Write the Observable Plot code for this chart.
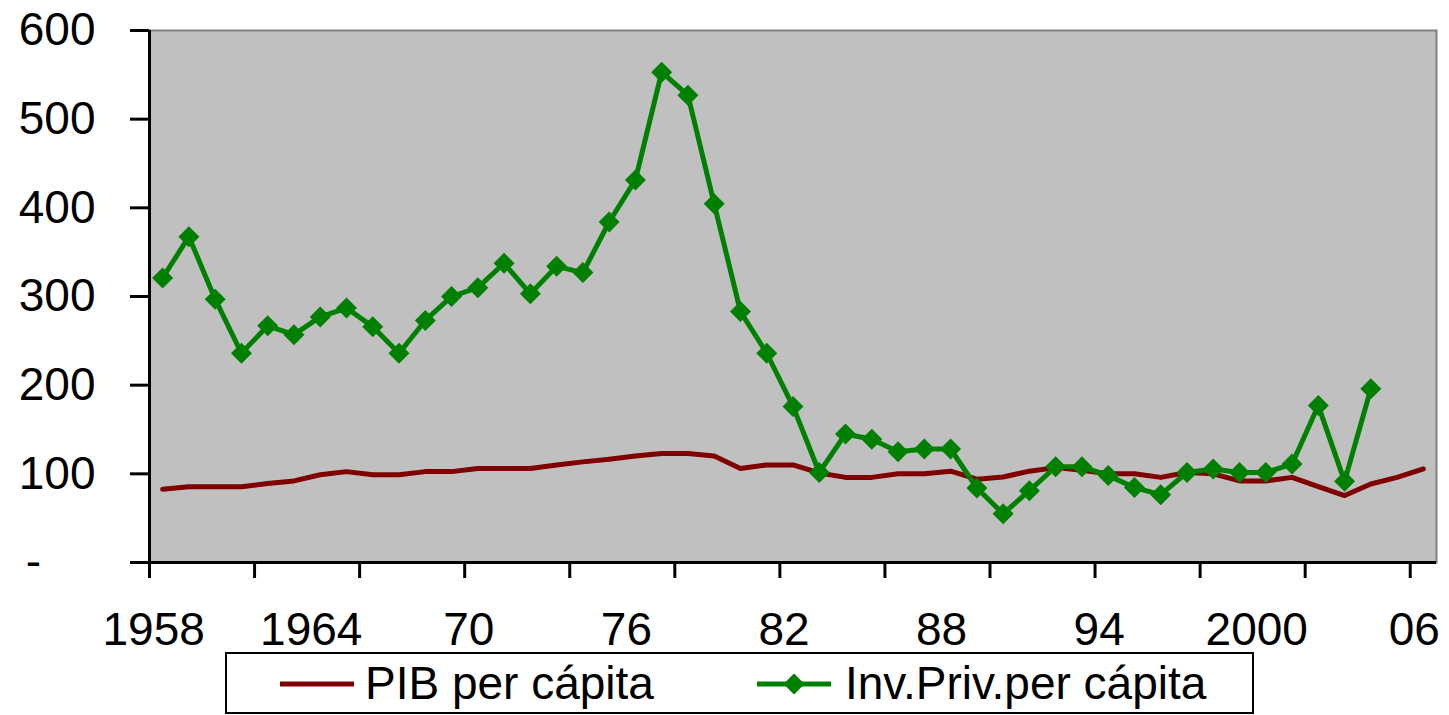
<!DOCTYPE html>
<html>
<head>
<meta charset="utf-8">
<script src="https://cdn.jsdelivr.net/npm/d3@7"></script>
<script src="https://cdn.jsdelivr.net/npm/@observablehq/plot@0.6"></script>
<style>
  html, body { margin: 0; padding: 0; background: #fff; }
  #wrap { position: relative; width: 1449px; height: 715px; font-family: "Liberation Sans", Arial, sans-serif; }
  #legend { position: absolute; left: 225px; top: 652px; width: 1029px; height: 62px; box-sizing: border-box; border: 2px solid #000; background: #fff; }
  .item { position: absolute; top: 0; height: 58px; display: flex; align-items: center; font-size: 46px; color: #000; white-space: nowrap; }
  .sw { position: absolute; top: 15px; }
</style>
</head>
<body>
<div id="wrap"></div>
<script>
const years = [1958,1959,1960,1961,1962,1963,1964,1965,1966,1967,1968,1969,1970,1971,1972,1973,1974,1975,1976,1977,1978,1979,1980,1981,1982,1983,1984,1985,1986,1987,1988,1989,1990,1991,1992,1993,1994,1995,1996,1997,1998,1999,2000,2001,2002,2003,2004,2005,2006];
const pibPerCapita = [82.5,85.5,85.5,85.5,89,92,99,102.5,99,99,102.5,102.5,106,106,106,110,113.5,116.5,120,123,123,120,106,110,110,101,96,96,100,100,103,94,96.5,103,107,104,100,100,96,101.5,100,92,92,96,85.5,75.5,88.5,96,105.5];
const invPrivPerCapita = [321,367.5,297,236,267,257,277,287,266,236,273,300,310,337.5,303,334,327,384,431.5,553,527,404.5,283,236,176,101.5,145,139,125,128,128,84,55,81,108,108,98,84.5,76.5,101.5,105.5,101.5,101.5,111,177,91.5,196];
const yTicks = [0,100,200,300,400,500,600];
const xLabelYears = [1958,1964,1970,1976,1982,1988,1994,2000,2006];
const xLabelText = ["1958","1964","70","76","82","88","94","2000","06"];
const seriesNames = ["PIB per cápita","Inv.Priv.per cápita"];
const colors = ["#800000","#008000"];

const pibRows = years.map((y,i) => ({year: y, value: pibPerCapita[i]}));
const invRows = invPrivPerCapita.map((v,i) => ({year: years[i], value: v}));

const diamond = {
  draw(context, size) {
    const r = Math.sqrt(size / Math.PI);
    context.moveTo(0, -r);
    context.lineTo(r, 0);
    context.lineTo(0, r);
    context.lineTo(-r, 0);
    context.closePath();
  }
};

const xMin = years[0] - 0.5, xMax = years[years.length - 1] + 0.5;
const tickBounds = d3.range(xMin, xMax + 0.01, 4);

const chart = Plot.plot({
  width: 1449,
  height: 715,
  marginLeft: 149,
  marginRight: 13,
  marginTop: 30,
  marginBottom: 153,
  style: {fontFamily: '"Liberation Sans", Arial, sans-serif', fontSize: "46px", background: "transparent", color: "#000", overflow: "visible"},
  x: {domain: [xMin, xMax]},
  y: {domain: [0, 600]},
  marks: [
    Plot.frame({fill: "#C0C0C0", stroke: "#808080", strokeWidth: 2}),
    Plot.line(pibRows, {x: "year", y: "value", stroke: colors[0], strokeWidth: 5, strokeLinejoin: "round"}),
    Plot.line(invRows, {x: "year", y: "value", stroke: colors[1], strokeWidth: 5, strokeLinejoin: "round"}),
    Plot.dot(invRows, {x: "year", y: "value", symbol: diamond, r: 10.5, fill: colors[1], stroke: "none"}),
    Plot.ruleX([xMin], {stroke: "#000", strokeWidth: 3}),
    Plot.ruleY([0], {stroke: "#000", strokeWidth: 3}),
    Plot.axisY({ticks: yTicks, tickFormat: d => d === 0 ? "" : String(d), tickSize: 19, tickPadding: 35, strokeWidth: 3, fontSize: 46, label: null}),
    Plot.axisY({ticks: [0], tickFormat: () => "-", tickSize: 0, tickPadding: 116, textAnchor: "middle", fontSize: 46, label: null}),
    Plot.axisX({ticks: tickBounds, tickFormat: () => "", tickSize: 16, strokeWidth: 3, label: null}),
    Plot.axisX({ticks: xLabelYears, tickFormat: d => xLabelText[xLabelYears.indexOf(d)], tickSize: 0, tickPadding: 50, fontSize: 46, dx: -9, label: null})
  ]
});

const wrap = document.getElementById("wrap");
chart.style.position = "absolute";
chart.style.left = "0";
chart.style.top = "0";
wrap.appendChild(chart);

const legend = document.createElement("div");
legend.id = "legend";
legend.innerHTML = `
  <svg class="sw" style="left:53px" width="74" height="30"><line x1="0" y1="15" x2="74" y2="15" stroke="${colors[0]}" stroke-width="5"/></svg>
  <div class="item" style="left:138px">${seriesNames[0]}</div>
  <svg class="sw" style="left:530px" width="74" height="30"><line x1="0" y1="15" x2="74" y2="15" stroke="${colors[1]}" stroke-width="5"/><path d="M37,4.5L47.5,15L37,25.5L26.5,15Z" fill="${colors[1]}"/></svg>
  <div class="item" style="left:618px">${seriesNames[1]}</div>`;
wrap.appendChild(legend);
</script>
</body>
</html>
